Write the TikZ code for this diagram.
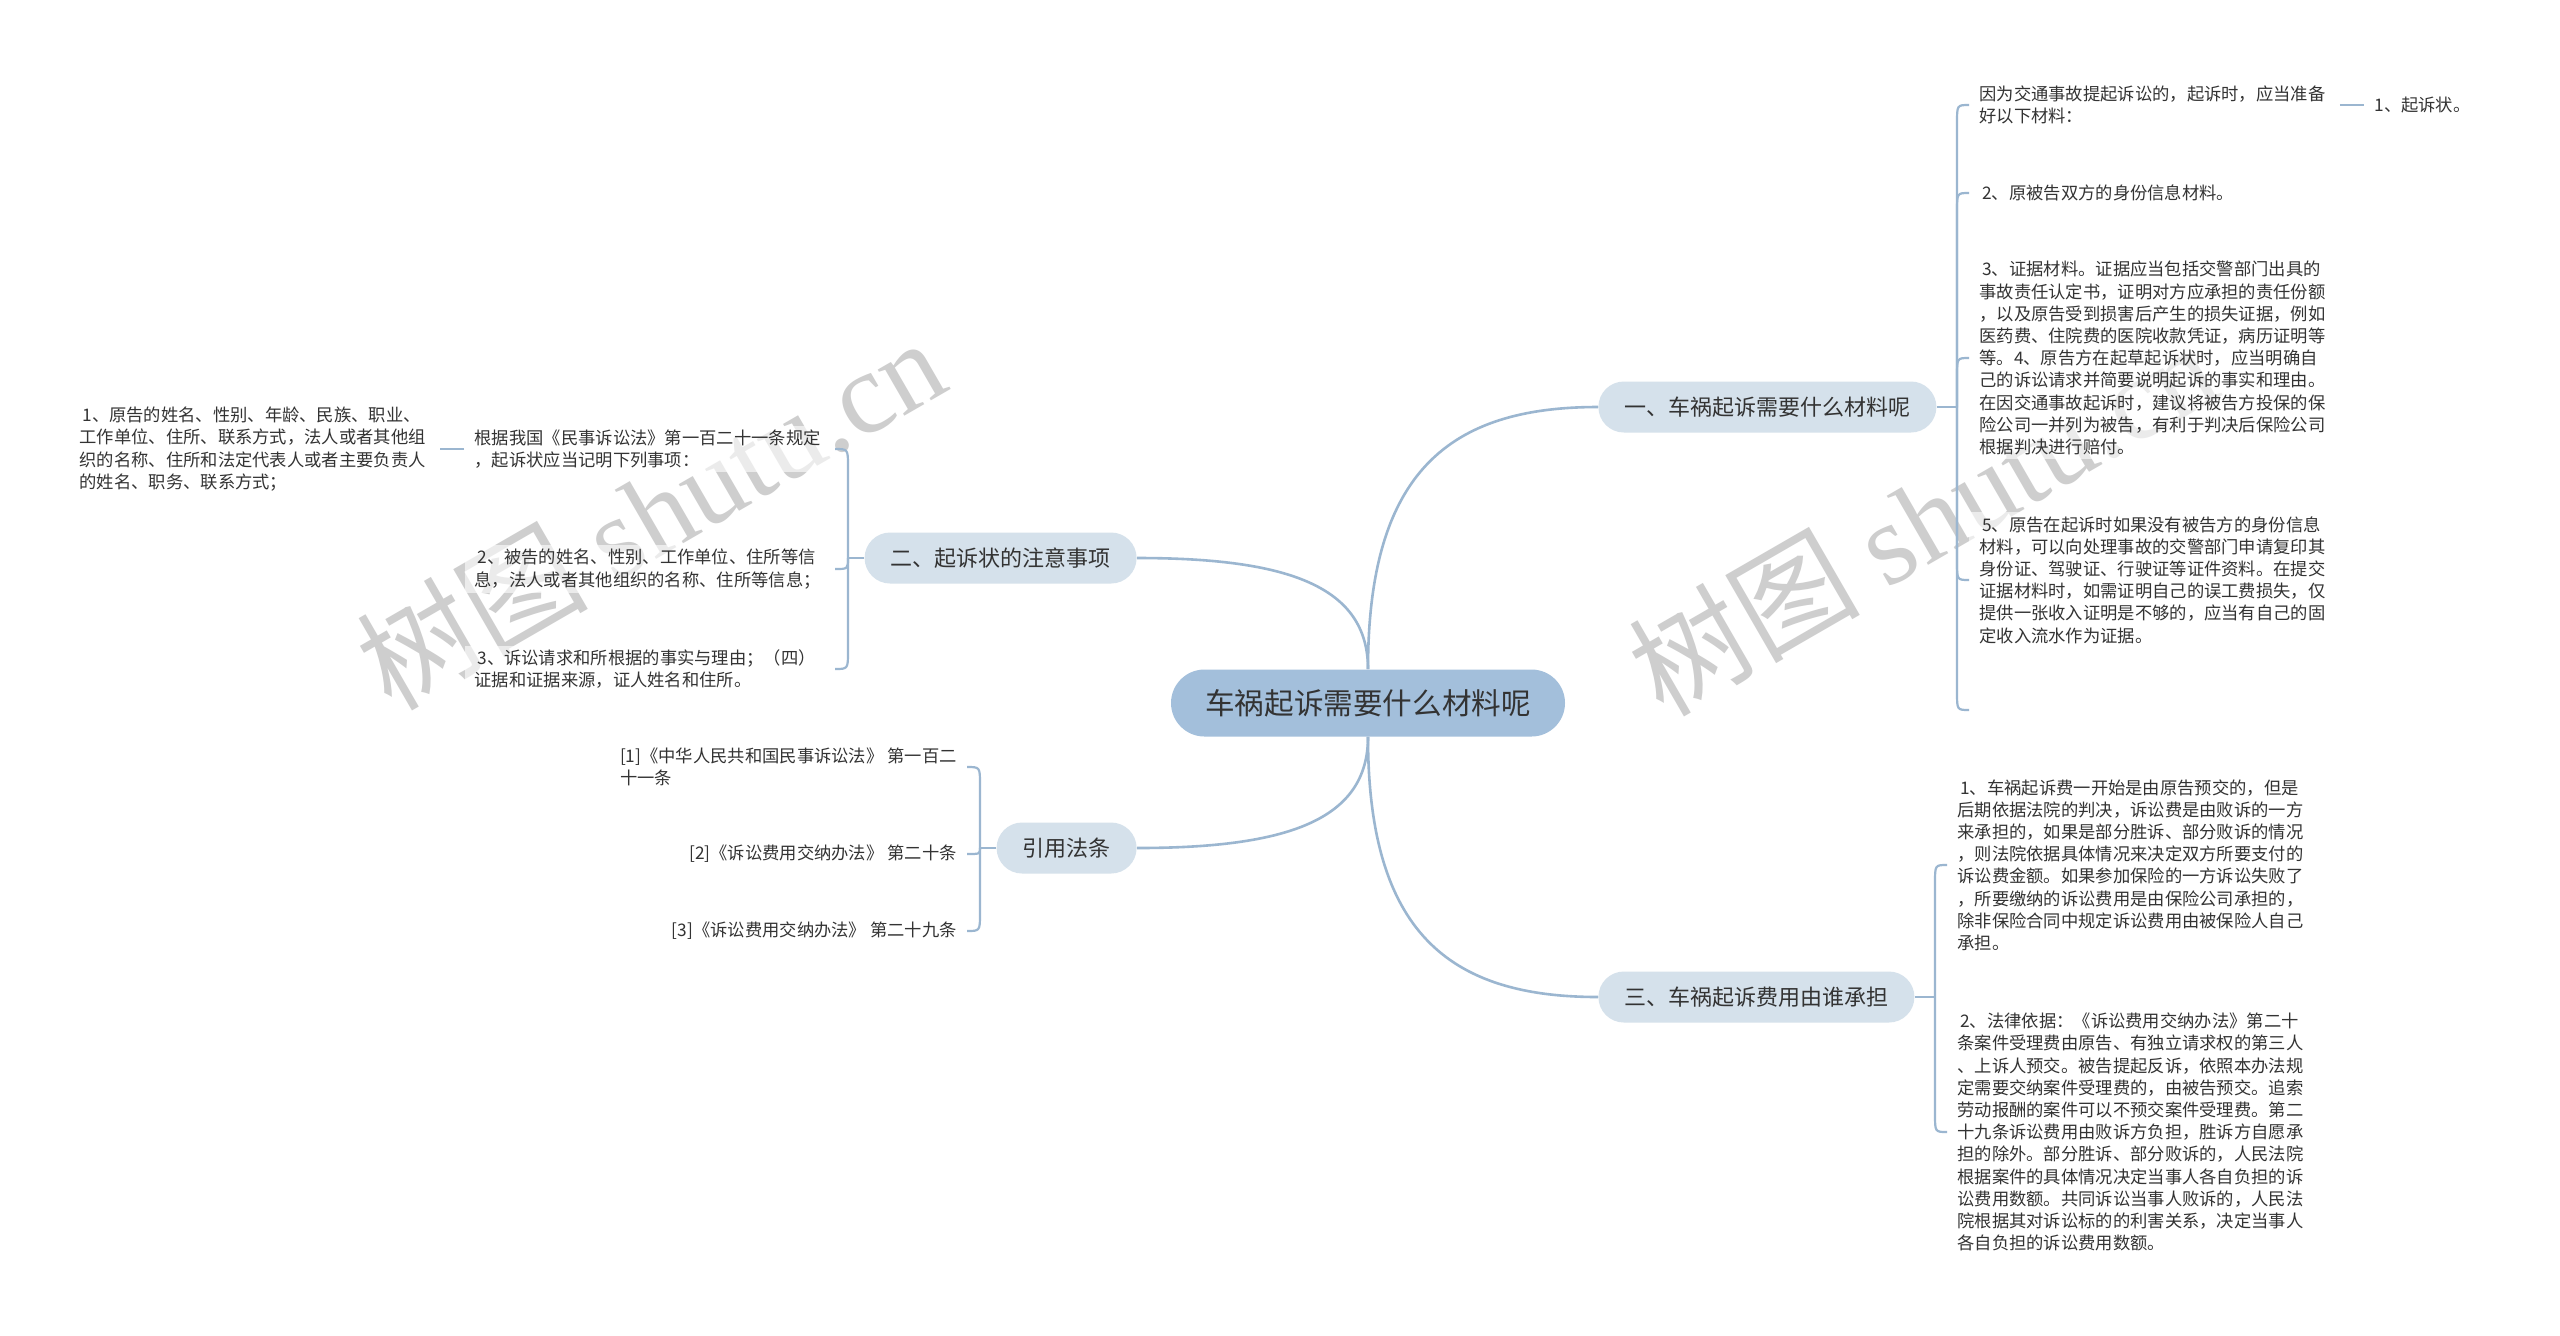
\documentclass[tikz,border=0pt]{standalone}
\usepackage{fontspec}
\setmainfont{Noto Sans CJK SC}
\newfontfamily\wmserif{Liberation Serif}
\usetikzlibrary{calc}
\definecolor{linec}{RGB}{155,182,208}
\definecolor{centerfill}{RGB}{163,191,219}
\definecolor{branchfill}{RGB}{213,225,235}
\definecolor{txt}{RGB}{51,51,51}
\definecolor{wmc}{RGB}{206,206,206}
\newcommand\leaffont{\fontsize{8.65pt}{11.1pt}\selectfont}
\tikzset{
  centernode/.style={fill=centerfill, draw=none, rounded corners=16.75pt, minimum height=33.5pt, minimum width=197pt, font=\fontsize{14.8pt}{17pt}\selectfont, text=txt, inner sep=0pt},
  branchnode/.style={fill=branchfill, draw=none, rounded corners=12.75pt, minimum height=25.5pt, inner xsep=13pt, font=\fontsize{11pt}{13pt}\selectfont, text=txt},
  leaf/.style={font=\leaffont, text=txt, align=left, text width=175pt, inner xsep=5pt, inner ysep=2pt, fill=white, fill opacity=0.6, text opacity=1},
  leafnw/.style={font=\leaffont, text=txt, align=left, inner xsep=5pt, inner ysep=2pt, fill=white, fill opacity=0.6, text opacity=1},
  mainline/.style={draw=linec, line width=1.3pt},
  subline/.style={draw=linec, line width=1.1pt},
  wm/.style={text=wmc, font=\fontsize{58pt}{60pt}\selectfont, inner sep=0pt}
}
\begin{document}
\begin{tikzpicture}[x={(0.5pt,0)}, y={(0,-0.5pt)}]
\useasboundingbox (0,0) rectangle (2560,1335);
\fill[white] (0,0) rectangle (2560,1335);

% watermarks
\node[wm, rotate=30] (wm1) at (650,512) {树图 {\wmserif shutu.cn}};
\node[wm, rotate=30] (wm2) at (1922,518) {树图 {\wmserif shutu.cn}};

% central and main branches
\node[centernode] (c) at (1368,703) {车祸起诉需要什么材料呢};
\node[branchnode, anchor=west] (b1) at (1598,407) {一、车祸起诉需要什么材料呢};
\node[branchnode, anchor=east] (b2) at (1137,558) {二、起诉状的注意事项};
\node[branchnode, anchor=east] (b4) at (1137,848) {引用法条};
\node[branchnode, anchor=west] (b3) at (1598,997) {三、车祸起诉费用由谁承担};

\draw[mainline] (c.north) .. controls ($(c.north)!0.75!(c.north|-b1.west)$) and ($(c.north|-b1.west)!0.35!(b1.west)$) .. (b1.west);
\draw[mainline] (c.north) .. controls ($(c.north)!0.75!(c.north|-b2.east)$) and ($(c.north|-b2.east)!0.35!(b2.east)$) .. (b2.east);
\draw[mainline] (c.south) .. controls ($(c.south)!0.75!(c.south|-b4.east)$) and ($(c.south|-b4.east)!0.35!(b4.east)$) .. (b4.east);
\draw[mainline] (c.south) .. controls ($(c.south)!0.75!(c.south|-b3.west)$) and ($(c.south|-b3.west)!0.35!(b3.west)$) .. (b3.west);

% ---- branch 1 children
\node[leaf, anchor=west] (r1) at (1969,105) {因为交通事故提起诉讼的，起诉时，应当准备\\好以下材料：};
\node[leafnw, anchor=west] (r1a) at (2364,105) {1、起诉状。};
\node[leaf, anchor=west] (r2) at (1969,193) {\,2、原被告双方的身份信息材料。};
\node[leaf, anchor=west] (r3) at (1969,358) {\,3、证据材料。证据应当包括交警部门出具的\\事故责任认定书，证明对方应承担的责任份额\\，以及原告受到损害后产生的损失证据，例如\\医药费、住院费的医院收款凭证，病历证明等\\等。4、原告方在起草起诉状时，应当明确自\\己的诉讼请求并简要说明起诉的事实和理由。\\在因交通事故起诉时，建议将被告方投保的保\\险公司一并列为被告，有利于判决后保险公司\\根据判决进行赔付。};
\node[leaf, anchor=west] (r5) at (1969,580) {\,5、原告在起诉时如果没有被告方的身份信息\\材料，可以向处理事故的交警部门申请复印其\\身份证、驾驶证、行驶证等证件资料。在提交\\证据材料时，如需证明自己的误工费损失，仅\\提供一张收入证明是不够的，应当有自己的固\\定收入流水作为证据。};
\coordinate (r6) at (1969,710);
\coordinate (j1) at (1957,407);

\draw[subline] (b1.east) -- (j1);
\draw[subline] (j1) -- ($(j1|-r1.west)+(0,18)$) .. controls (j1|-r1.west) .. (r1.west);
\draw[subline] (j1) -- ($(j1|-r2.west)+(0,18)$) .. controls (j1|-r2.west) .. (r2.west);
\draw[subline] (j1) -- ($(j1|-r3.west)+(0,18)$) .. controls (j1|-r3.west) .. (r3.west);
\draw[subline] (j1) -- ($(j1|-r5.west)+(0,-18)$) .. controls (j1|-r5.west) .. (r5.west);
\draw[subline] (j1) -- ($(j1|-r6)+(0,-18)$) .. controls (j1|-r6) .. (r6);
\draw[subline] (r1.east) -- (r1a.west);

% ---- branch 3 children
\node[leaf, anchor=west] (t1) at (1947,865) {\,1、车祸起诉费一开始是由原告预交的，但是\\后期依据法院的判决，诉讼费是由败诉的一方\\来承担的，如果是部分胜诉、部分败诉的情况\\，则法院依据具体情况来决定双方所要支付的\\诉讼费金额。如果参加保险的一方诉讼失败了\\，所要缴纳的诉讼费用是由保险公司承担的，\\除非保险合同中规定诉讼费用由被保险人自己\\承担。};
\node[leaf, anchor=west] (t2) at (1947,1132) {\,2、法律依据：《诉讼费用交纳办法》第二十\\条案件受理费由原告、有独立请求权的第三人\\、上诉人预交。被告提起反诉，依照本办法规\\定需要交纳案件受理费的，由被告预交。追索\\劳动报酬的案件可以不预交案件受理费。第二\\十九条诉讼费用由败诉方负担，胜诉方自愿承\\担的除外。部分胜诉、部分败诉的，人民法院\\根据案件的具体情况决定当事人各自负担的诉\\讼费用数额。共同诉讼当事人败诉的，人民法\\院根据其对诉讼标的的利害关系，决定当事人\\各自负担的诉讼费用数额。};
\coordinate (j3) at (1935,997);
\draw[subline] (b3.east) -- (j3);
\draw[subline] (j3) -- ($(j3|-t1.west)+(0,18)$) .. controls (j3|-t1.west) .. (t1.west);
\draw[subline] (j3) -- ($(j3|-t2.west)+(0,-18)$) .. controls (j3|-t2.west) .. (t2.west);

% ---- branch 2 children
\node[leaf, anchor=east] (l1) at (835,449) {根据我国《民事诉讼法》第一百二十一条规定\\，起诉状应当记明下列事项：};
\node[leaf, anchor=east] (l1a) at (440,449) {\,1、原告的姓名、性别、年龄、民族、职业、\\工作单位、住所、联系方式，法人或者其他组\\织的名称、住所和法定代表人或者主要负责人\\的姓名、职务、联系方式；};
\node[leaf, anchor=east] (l2) at (835,569) {\,2、被告的姓名、性别、工作单位、住所等信\\息，法人或者其他组织的名称、住所等信息；};
\node[leaf, anchor=east] (l3) at (835,669) {\,3、诉讼请求和所根据的事实与理由；（四）\\证据和证据来源，证人姓名和住所。};
\coordinate (j2) at (848,558);
\draw[subline] (b2.west) -- (j2);
\draw[subline] (j2) -- ($(j2|-l1.east)+(0,18)$) .. controls (j2|-l1.east) .. (l1.east);
\draw[subline] (j2) .. controls (j2|-l2.east) .. (l2.east);
\draw[subline] (j2) -- ($(j2|-l3.east)+(0,-18)$) .. controls (j2|-l3.east) .. (l3.east);
\draw[subline] (l1.west) -- (l1a.east);

% ---- 引用法条 children
\node[leafnw, anchor=east] (q1) at (967,767) {[1]《中华人民共和国民事诉讼法》 第一百二\\十一条};
\node[leafnw, anchor=east] (q2) at (967,854) {[2]《诉讼费用交纳办法》 第二十条};
\node[leafnw, anchor=east] (q3) at (967,931) {[3]《诉讼费用交纳办法》 第二十九条};
\coordinate (j4) at (980,848);
\draw[subline] (b4.west) -- (j4);
\draw[subline] (j4) -- ($(j4|-q1.east)+(0,18)$) .. controls (j4|-q1.east) .. (q1.east);
\draw[subline] (j4) .. controls (j4|-q2.east) .. (q2.east);
\draw[subline] (j4) -- ($(j4|-q3.east)+(0,-18)$) .. controls (j4|-q3.east) .. (q3.east);
\end{tikzpicture}
\end{document}
